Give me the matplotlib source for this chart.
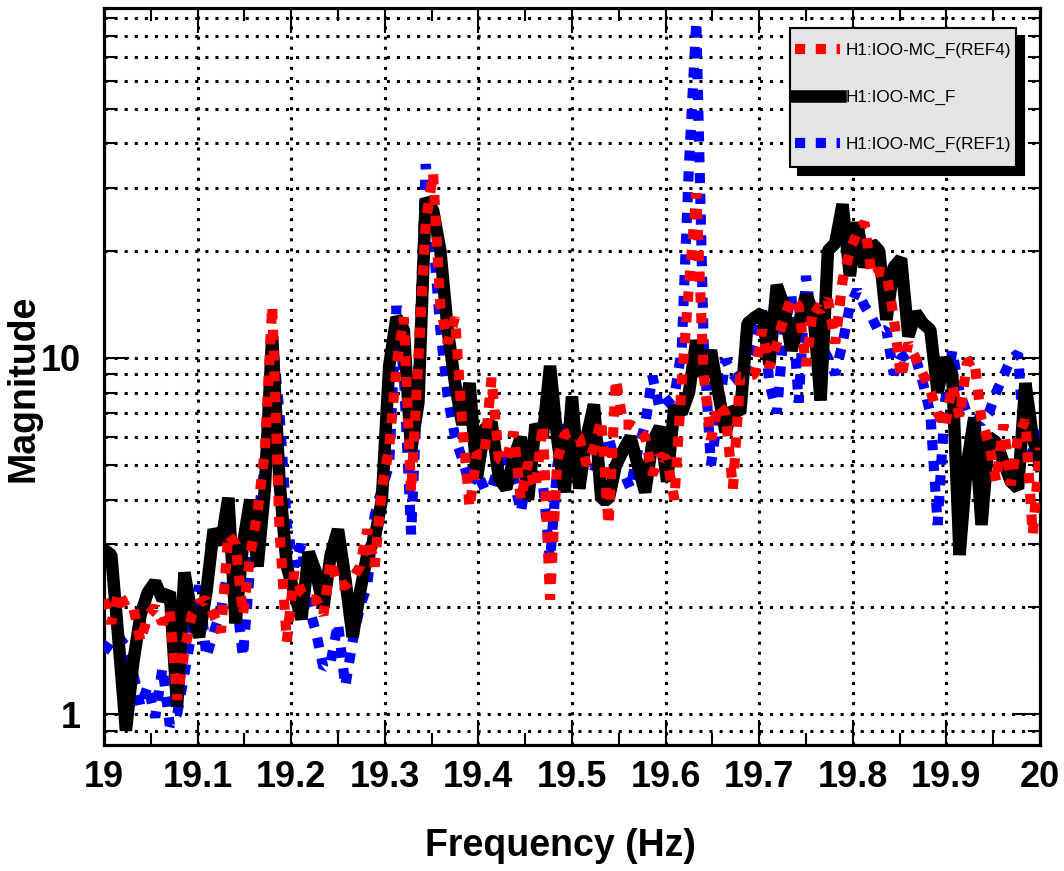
import numpy as np
import matplotlib
matplotlib.use("Agg")
import matplotlib.pyplot as plt
from matplotlib import ticker
from matplotlib.patches import Rectangle

plt.rcParams['font.family'] = ['Liberation Sans', 'DejaVu Sans']

# frequency axis: 19 Hz .. 20 Hz, 1/128 Hz resolution
freq = 19.0 + np.arange(129) / 128.0

mag_black = [
    2.9, 2.8, 1.6, 0.9, 1.4, 1.9, 2.2, 2.35, 2.1, 2.2,
    1.05, 2.5, 1.9, 1.65, 2.2, 3.3, 3.0, 4.05, 1.8, 3.0,
    4.0, 2.6, 4.3, 11.5, 4.5, 2.6, 2.2, 1.85, 2.85, 2.5,
    2.0, 2.8, 3.3, 2.4, 1.65, 2.2, 2.8, 3.1, 4.0, 9.5,
    13.0, 12.0, 5.5, 7.5, 28, 26, 20, 12, 8.5, 6.5,
    8.5, 4.6, 6.3, 6.6, 4.6, 4.3, 5.2, 6.0, 4.0, 6.5,
    6.0, 9.5, 5.9, 4.2, 7.8, 4.3, 6.0, 7.4, 4.0, 4.0,
    5.0, 5.5, 6.0, 5.0, 4.2, 5.8, 6.4, 4.5, 7.3, 7.0,
    8.0, 11.2, 8.9, 10.5, 8.0, 6.2, 7.2, 7.0, 12.5, 13,
    13.4, 9.6, 16, 14, 10.5, 12.5, 15, 13.5, 7.6, 20,
    21, 27, 17, 24, 18, 21, 20, 12.8, 18, 19,
    11.5, 13.4, 12.5, 12, 8.0, 10, 9.0, 2.8, 5.0, 6.8,
    3.4, 6.0, 5.8, 5.1, 4.5, 4.3, 8.5, 6.0, 5.0,
]

mag_ref4 = [
    2.1, 1.8, 2.2, 2.0, 2.0, 1.6, 1.9, 2.0, 1.8, 1.95,
    1.1, 1.5, 1.9, 2.05, 2.1, 1.9, 1.7, 3.2, 3.0, 1.9,
    2.8, 3.7, 5.5, 14, 3.3, 1.6, 2.5, 2.2, 2.1, 2.1,
    1.9, 2.7, 2.3, 2.3, 2.4, 2.6, 3.3, 2.6, 4.3, 5.6,
    9.5, 13, 4.2, 10, 24, 33, 14, 11, 13, 6.5,
    3.8, 5.4, 5.3, 8.8, 5.2, 5.1, 6.2, 4.0, 5.1, 4.3,
    6.5, 2.1, 5.2, 6.1, 6.2, 6.0, 5.0, 5.6, 6.7, 3.4,
    8.7, 6.5, 6.5, 6.3, 6.0, 4.7, 5.3, 5.2, 4.0, 8.5,
    16, 29, 9.0, 5.9, 7.4, 7.0, 4.3, 8.9, 8.9, 9.0,
    12, 9.4, 11, 13, 14.7, 14, 9.5, 14, 13.6, 14.6,
    11, 16.5, 20, 22.5, 24, 17, 17.5, 17.4, 13, 8.8,
    11, 10, 9.0, 8.1, 7.0, 6.4, 8.4, 6.8, 9.7, 9.9,
    6.7, 5.8, 4.5, 6.5, 4.4, 6.0, 6.7, 3.2, 5.6,
]

mag_ref1 = [
    1.5, 1.6, 1.65, 1.55, 1.3, 1.05, 1.2, 0.98, 1.35, 0.93,
    1.0, 1.3, 1.7, 2.3, 1.45, 1.7, 1.95, 2.6, 2.2, 1.45,
    2.6, 3.5, 5.0, 11.5, 7.0, 3.4, 2.6, 3.0, 2.0, 1.7,
    1.35, 1.4, 1.8, 1.2, 1.6, 2.0, 2.3, 3.6, 4.3, 5.0,
    14, 9, 3.2, 9.5, 35, 22, 12, 7.8, 6.0, 5.2,
    4.4, 4.8, 4.3, 4.3, 5.0, 5.5, 4.6, 3.7, 4.8, 4.7,
    4.5, 2.7, 5.0, 6.5, 5.5, 5.0, 5.0, 4.8, 5.5, 6.0,
    5.0, 4.8, 4.3, 5.5, 6.5, 8.9, 7.2, 7.5, 7.8, 10.5,
    35, 88, 11, 5.0, 7.0, 9.9, 9.0, 8.5, 9.5, 11,
    13.6, 8.5, 7.0, 12, 15, 7.5, 17, 12, 11, 10,
    9, 11, 14, 15.5, 14, 13, 11.8, 12, 9.0, 10,
    10.3, 10, 8.5, 7.0, 3.4, 7.5, 10.5, 8.0, 7.0, 6.8,
    6.6, 7.0, 8.0, 8.9, 9.9, 10.3, 5.0, 5.5, 6.3,
]

labels = ["H1:IOO-MC_F(REF4)", "H1:IOO-MC_F", "H1:IOO-MC_F(REF1)"]
x_ticks = [19.0, 19.1, 19.2, 19.3, 19.4, 19.5, 19.6, 19.7, 19.8, 19.9, 20.0]
x_tick_labels = ["19", "19.1", "19.2", "19.3", "19.4", "19.5", "19.6", "19.7", "19.8", "19.9", "20"]
y_ticks = [1, 10]
y_tick_labels = ["1", "10"]

fig = plt.figure(figsize=(10.64, 8.71), dpi=100)
ax = fig.add_axes([104 / 1064, 1 - 745 / 871, 936 / 1064, 737 / 871])

l_ref1, = ax.plot(freq, mag_ref1, color='#0000ff', lw=7.3, dashes=(1.0, 1.05),
                  dash_capstyle='butt', dash_joinstyle='bevel',
                  label=labels[2], zorder=3)
l_blk, = ax.plot(freq, mag_black, color='black', lw=9, solid_joinstyle='bevel',
                 label=labels[1], zorder=4)
l_ref4, = ax.plot(freq, mag_ref4, color='#ff0000', lw=7.3, dashes=(1.0, 1.05),
                  dash_capstyle='butt', dash_joinstyle='bevel',
                  label=labels[0], zorder=5)

ax.set_yscale('log')
ax.set_xlim(19.0, 20.0)
ax.set_ylim(0.82, 96)

ax.xaxis.set_major_locator(ticker.FixedLocator(x_ticks))
ax.xaxis.set_major_formatter(ticker.FixedFormatter(x_tick_labels))
ax.xaxis.set_minor_locator(ticker.MultipleLocator(0.05))
ax.yaxis.set_major_locator(ticker.FixedLocator(y_ticks))
ax.yaxis.set_major_formatter(ticker.FixedFormatter(y_tick_labels))
ax.yaxis.set_minor_locator(ticker.LogLocator(base=10, subs=np.arange(2, 10)))
ax.yaxis.set_minor_formatter(ticker.NullFormatter())

ax.set_axisbelow(True)
grid_kw = dict(color='black', lw=2.2, dashes=(1, 2.3))
ax.xaxis.grid(True, which='major', **grid_kw)
ax.yaxis.grid(True, which='both', **grid_kw)

ax.tick_params(which='both', direction='in', top=True, right=True, width=1.5, color='black')
ax.tick_params(which='major', length=18)
ax.tick_params(which='minor', length=9)
ax.tick_params(axis='x', which='major', pad=11, labelsize=26)
ax.tick_params(axis='y', which='major', pad=17, labelsize=26)
for lab in ax.get_xticklabels() + ax.get_yticklabels():
    lab.set_fontweight('bold')

for sp in ax.spines.values():
    sp.set_linewidth(2.3)

ax.set_xlabel("Frequency (Hz)", fontsize=27, fontweight='bold')
ax.xaxis.set_label_coords(0.488, -0.113)
ax.set_ylabel("Magnitude", fontsize=27, fontweight='bold')
ax.yaxis.set_label_coords(-0.067, 0.484)

# legend box with solid drop shadow (axes coordinates)
box_x0, box_y0, box_w, box_h = 0.7329, 0.7843, 0.2415, 0.1886
shadow = Rectangle((box_x0 + 0.0085, box_y0 - 0.0109), box_w, box_h,
                   transform=ax.transAxes, facecolor='black', edgecolor='black',
                   lw=1.5, zorder=8)
frame = Rectangle((box_x0, box_y0), box_w, box_h, transform=ax.transAxes,
                  facecolor='#e4e4e4', edgecolor='black', lw=1.5, zorder=9)
ax.add_patch(shadow)
ax.add_patch(frame)

leg = ax.legend(handles=[l_ref4, l_blk, l_ref1], labels=labels,
                loc='center', bbox_to_anchor=(box_x0 + box_w / 2, box_y0 + box_h / 2),
                bbox_transform=ax.transAxes, borderaxespad=0, borderpad=0,
                fontsize=12.3, frameon=False,
                handlelength=2.65, handletextpad=0.35, labelspacing=1.85)
leg.set_zorder(10)

fig.savefig("out.png", dpi=100)
